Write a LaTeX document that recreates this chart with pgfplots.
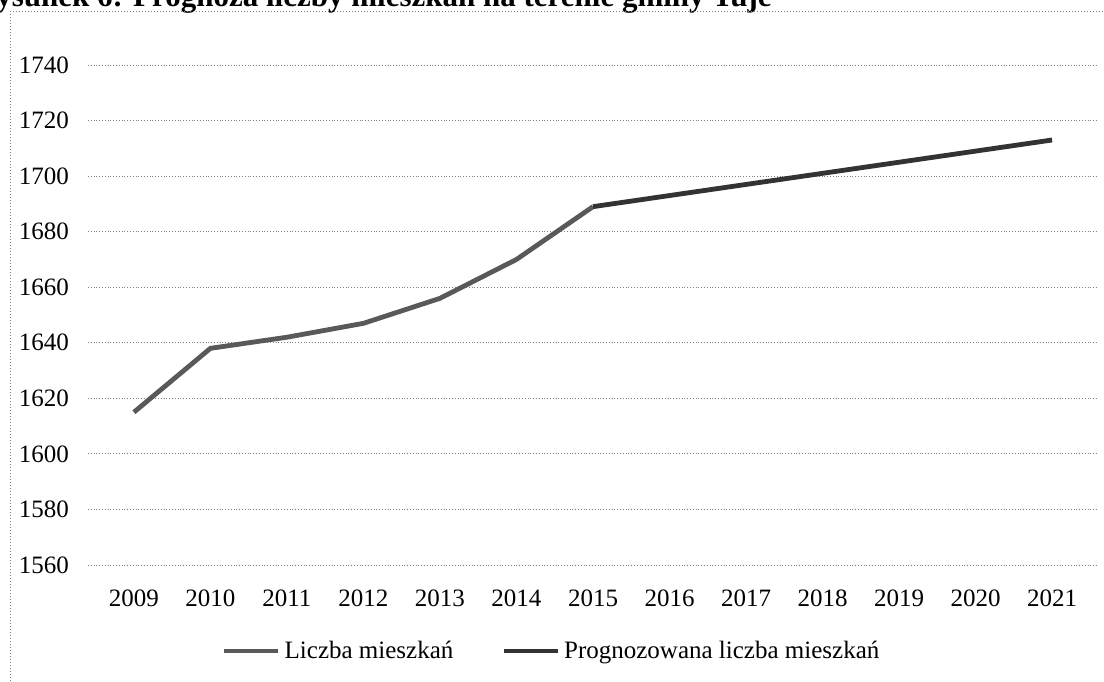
\documentclass[border=0pt]{standalone}
\usepackage{fontspec}
\setmainfont{Liberation Serif}
\usepackage{pgfplots}
\pgfplotsset{compat=1.18}

% observed values, 2009-2015
\pgfplotstableread{
x y
0 1615
1 1638
2 1642
3 1647
4 1656
5 1670
6 1689
}\observed
% forecast, 2015-2021
\pgfplotstableread{
x y
6 1689
7 1693
8 1697
9 1701
10 1705
11 1709
12 1713
}\forecast

\newcommand{\fs}{\fontsize{12.5}{15}\selectfont}

\begin{document}
\begin{tikzpicture}
\path[use as bounding box, clip] (0,0) rectangle (552pt,340.5pt);
% caption, cropped by the top edge as in the scan
\node[anchor=base east, inner sep=0pt, font=\fontsize{15.5}{18}\selectfont\bfseries]
  at (386pt,337pt) {Rysunek 6: Prognoza liczby mieszkań na terenie gminy Tuje};
% frame of the chart area
\draw[black!50, line width=0.5pt, densely dotted] (5pt,0pt) -- (5pt,334.5pt) -- (552pt,334.5pt);
\begin{axis}[
    scale only axis,
    width=505pt, height=250pt,
    anchor=south west, at={(44pt,58pt)},
    xmin=-0.6, xmax=12.6,
    ymin=1560, ymax=1740,
    ytick={1560,1580,...,1740},
    xtick={0,...,12},
    xticklabels={2009,2010,2011,2012,2013,2014,2015,2016,2017,2018,2019,2020,2021},
    axis line style={draw=none},
    major tick length=0pt,
    ymajorgrids,
    major grid style={black!50, densely dotted, line width=0.4pt},
    /pgf/number format/assume math mode=true,
    /pgf/number format/1000 sep={},
    ticklabel style={font=\fs},
    xticklabel style={yshift=-9pt},
    yticklabel style={xshift=-6pt},
    legend style={at={(0.46,-0.172)}, anchor=center, draw=none, fill=none,
        legend columns=2, font=\fs,
        /tikz/every even column/.append style={column sep=22pt}},
    legend image code/.code={\draw[#1] (0pt,0pt) -- (27pt,0pt);},
]
\addplot[black!65, line width=2.4pt, line join=round] table[x=x, y=y] {\observed};
\addlegendentry{Liczba mieszkań}
\addplot[black!80, line width=2.4pt, line join=round] table[x=x, y=y] {\forecast};
\addlegendentry{Prognozowana liczba mieszkań}
\end{axis}
\end{tikzpicture}
\end{document}
